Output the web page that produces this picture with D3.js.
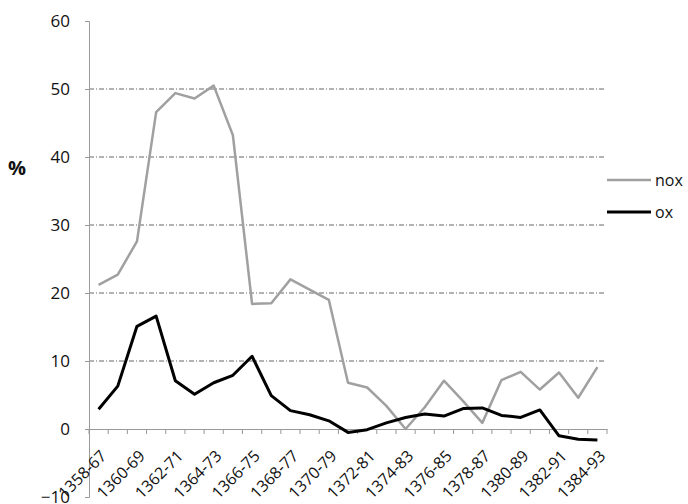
<!DOCTYPE html>
<html>
<head>
<meta charset="utf-8">
<script src="https://d3js.org/d3.v7.min.js"></script>
<style>
  body { margin: 0; background: #fff; }
  text { font-family: "Open Sans", sans-serif; fill: #111; }
</style>
</head>
<body>
<script>
// categories (periods) and series values
var categories = ["1358-67", "1359-68", "1360-69", "1361-70", "1362-71", "1363-72", "1364-73",
  "1365-74", "1366-75", "1367-76", "1368-77", "1369-78", "1370-79", "1371-80", "1372-81",
  "1373-82", "1374-83", "1375-84", "1376-85", "1377-86", "1378-87", "1379-88", "1380-89",
  "1381-90", "1382-91", "1383-92", "1384-93"];
var nox = [21.2, 22.7, 27.6, 46.6, 49.4, 48.6, 50.5, 43.2, 18.4, 18.5, 22, 20.5, 19,
  6.8, 6.1, 3.4, 0, 3.2, 7.1, 4.1, 0.9, 7.2, 8.4, 5.8, 8.3, 4.6, 9.1];
var ox = [2.9, 6.3, 15.1, 16.6, 7.1, 5.1, 6.8, 7.9, 10.7, 4.9, 2.7, 2.1, 1.2,
  -0.5, -0.1, 0.9, 1.7, 2.2, 1.9, 3.0, 3.1, 2.0, 1.7, 2.8, -1.0, -1.5, -1.6];
var yTicks = [-10, 0, 10, 20, 30, 40, 50, 60];
var gridTicks = [10, 20, 30, 40, 50];

var width = 688, height = 504;
var svg = d3.select("body").append("svg")
  .attr("width", width).attr("height", height);

var x = d3.scaleBand().domain(categories).range([89, 607]).padding(0);
var y = d3.scaleLinear().domain([-10, 60]).range([497, 21]);
var cx = function(c) { return x(c) + x.bandwidth() / 2; };

// dash-dot gridlines
svg.append("g").selectAll("line").data(gridTicks).enter().append("line")
  .attr("x1", 89).attr("x2", 605)
  .attr("y1", function(d) { return y(d); })
  .attr("y2", function(d) { return y(d); })
  .attr("stroke", "#666").attr("stroke-width", 1)
  .attr("stroke-dasharray", "5,2,1,2");

// y axis
var yAxis = svg.append("g").attr("transform", "translate(89,0)")
  .call(d3.axisLeft(y).tickValues(yTicks).tickSize(4).tickPadding(15));
yAxis.select(".domain").attr("stroke", "#999");
yAxis.selectAll(".tick line").attr("stroke", "#999");
yAxis.selectAll("text").style("font-size", "17px").attr("fill", "#111");

// x axis at zero
var xAxis = svg.append("g").attr("transform", "translate(0," + y(0) + ")")
  .call(d3.axisBottom(x).tickSize(0).tickFormat(function(d, i) { return i % 2 === 0 ? d : ""; }));
xAxis.select(".domain").attr("stroke", "#999");
xAxis.selectAll("text")
  .style("font-size", "16px").attr("fill", "#111")
  .attr("text-anchor", "end")
  .attr("x", 0).attr("y", 0).attr("dy", "0.35em")
  .attr("transform", "translate(5,24) rotate(-45)");
// ticks at band boundaries
xAxis.selectAll("line.bound").data(categories.concat([null])).enter().append("line")
  .attr("class", "bound")
  .attr("x1", function(d, i) { return 89 + i * x.bandwidth(); })
  .attr("x2", function(d, i) { return 89 + i * x.bandwidth(); })
  .attr("y1", 0).attr("y2", 5)
  .attr("stroke", "#999");

// series lines
var line = function(vals) {
  return d3.line()
    .x(function(d, i) { return cx(categories[i]); })
    .y(function(d) { return y(d); })(vals);
};
svg.append("path").attr("d", line(nox))
  .attr("fill", "none").attr("stroke", "#a0a0a0").attr("stroke-width", 2.5)
  .attr("stroke-linejoin", "round");
svg.append("path").attr("d", line(ox))
  .attr("fill", "none").attr("stroke", "#000").attr("stroke-width", 3)
  .attr("stroke-linejoin", "round");

// y label
svg.append("text").attr("x", 8).attr("y", 175)
  .style("font-size", "20px").style("font-weight", "bold").text("%");

// legend
var legend = svg.append("g").selectAll("g")
  .data([{ name: "nox", color: "#a0a0a0", w: 2.5, y: 180 }, { name: "ox", color: "#000", w: 3, y: 212 }])
  .enter().append("g");
legend.append("line")
  .attr("x1", 607).attr("x2", 651)
  .attr("y1", function(d) { return d.y; }).attr("y2", function(d) { return d.y; })
  .attr("stroke", function(d) { return d.color; })
  .attr("stroke-width", function(d) { return d.w; });
legend.append("text")
  .attr("x", 655).attr("y", function(d) { return d.y; }).attr("dy", "0.35em")
  .style("font-size", "16px").text(function(d) { return d.name; });
</script>
</body>
</html>
